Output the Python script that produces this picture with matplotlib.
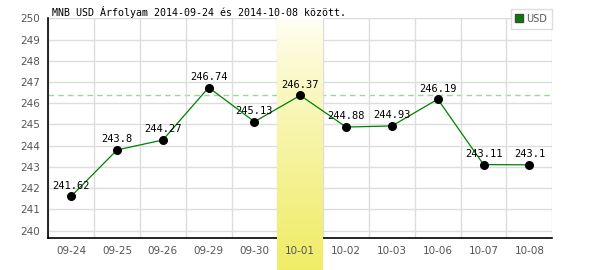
import matplotlib.pyplot as plt
import numpy as np

# adatok
dates = ['09-24', '09-25', '09-26', '09-29', '09-30', '10-01',
         '10-02', '10-03', '10-06', '10-07', '10-08']
rates = [241.62, 243.8, 244.27, 246.74, 245.13, 246.37,
         244.88, 244.93, 246.19, 243.11, 243.1]
labels = ['241.62', '243.8', '244.27', '246.74', '245.13', '246.37',
          '244.88', '244.93', '246.19', '243.11', '243.1']
highlight = 5  # kiemelt nap (10-01)
title = 'MNB USD Árfolyam 2014-09-24 és 2014-10-08 között.'

fig = plt.figure(figsize=(6, 2.7), dpi=100)
ax = fig.add_axes([48.3 / 600, 1 - 238.3 / 270, 504 / 600, 220 / 270])

x = np.arange(len(dates))
ax.set_xlim(-0.5, len(dates) - 0.5)
ax.set_ylim(239.64, 250)

# rács
ax.set_yticks(range(240, 251))
ax.set_xticks(np.arange(-0.5, len(dates), 1.0), minor=True)
ax.set_xticks(x)
ax.set_xticklabels([])
ax.grid(True, which='major', axis='y', color='#dddddd', lw=1)
ax.grid(True, which='minor', axis='x', color='#dddddd', lw=1)
ax.tick_params(which='both', length=0)
ax.tick_params(axis='y', labelsize=7.5, labelcolor='#555555', pad=6)
for s in ['top', 'right']:
    ax.spines[s].set_visible(False)
for s in ['left', 'bottom']:
    ax.spines[s].set_color('black')
    ax.spines[s].set_linewidth(1.2)

# szaggatott vonal a kiemelt nap értékénél
ax.axhline(rates[highlight], color='#9fd49f', lw=1, ls=(0, (4, 3)), zorder=1)

# sárga sáv színátmenettel
grad = np.linspace(0, 1, 256).reshape(-1, 1)
top_c = np.array([1.0, 1.0, 0.97])
bot_c = np.array([0.94, 0.925, 0.40])
img = top_c + (bot_c - top_c) * grad[..., None] ** 0.8
img = img.reshape(256, 1, 3)
ax.imshow(img, extent=(highlight - 0.5, highlight + 0.5, 238.15, 250),
          aspect='auto', origin='upper', zorder=2.6, clip_on=False)

# adatsor
ax.plot(x, rates, color='#008000', lw=0.9, zorder=3)
ax.scatter(x, rates, s=30, color='black', zorder=4)
for xi, yi, lab in zip(x, rates, labels):
    ax.annotate(lab, (xi, yi), xytext=(0, 4), textcoords='offset points',
                ha='center', va='bottom', fontsize=7.5,
                family='DejaVu Sans Mono', color='black', zorder=5)

# x feliratok szövegként, hogy a sáv fölött legyenek
for xi, d in zip(x, dates):
    ax.text(xi, -0.035, d, transform=ax.get_xaxis_transform(),
            ha='center', va='top', fontsize=7.5, color='#555555', zorder=5)

fig.text(52 / 600, 1 - 16 / 270, title, family='DejaVu Sans Mono',
         fontsize=7.2, color='black', va='baseline')

# jelmagyarázat
h = plt.Line2D([], [], ls='none', marker='s', markersize=6,
               markerfacecolor='#008000', markeredgecolor='#444444')
leg = ax.legend([h], ['USD'], loc='upper right', bbox_to_anchor=(552 / 600, 1 - 9 / 270),
                bbox_transform=fig.transFigure, fancybox=False, framealpha=1,
                edgecolor='#dddddd', fontsize=7, handlelength=0.8,
                handletextpad=0.3, borderpad=0.5, borderaxespad=0)
for t in leg.get_texts():
    t.set_color('#555555')
leg.set_zorder(6)

fig.savefig('out.png', dpi=100)
